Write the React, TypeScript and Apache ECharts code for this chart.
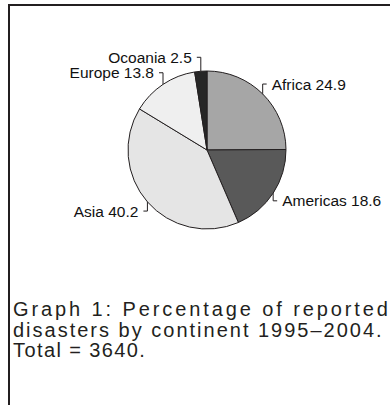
import React, { useEffect, useRef } from "react";
import * as echarts from "echarts";

const continents = ["Africa", "Americas", "Asia", "Europe", "Ocoania"];
const percentages = [24.9, 18.6, 40.2, 13.8, 2.5];
const totalDisasters = 3640;
const captionLines = [
  "Graph 1: Percentage of reported",
  "disasters by continent 1995\u20132004.",
  `Total = ${totalDisasters}.`,
];

const palette = ["#a6a6a6", "#595959", "#e5e5e5", "#efefef", "#262626"];
const INK = "#231f20";
const captionTokens = ["capone", "captwo", "capthree"];
const captionSpacing = [2.9, 2.0, 1.4];
const captionY = [310, 331, 351];

const css = captionTokens
  .map((t, i) => `#chart-root svg text[style*="${t}"]{letter-spacing:${captionSpacing[i]}px;}`)
  .join("\n");

export default function App() {
  const ref = useRef<HTMLDivElement>(null);
  useEffect(() => {
    if (!ref.current) return;
    const chart = echarts.init(ref.current, undefined, { renderer: "svg" });
    chart.setOption({
      animation: false,
      backgroundColor: "#ffffff",
      graphic: [
        {
          type: "line",
          shape: { x1: 8, y1: 5, x2: 390, y2: 5 },
          style: { stroke: INK, lineWidth: 2 },
        },
        {
          type: "line",
          shape: { x1: 9, y1: 4, x2: 9, y2: 405 },
          style: { stroke: INK, lineWidth: 2 },
        },
        ...captionLines.map((line, i) => ({
          type: "text",
          left: 13,
          top: captionY[i] - 11,
          style: {
            text: line,
            fill: INK,
            fontSize: 20,
            fontFamily: `Liberation Sans, ${captionTokens[i]}`,
          },
        })),
      ],
      series: [
        {
          type: "pie",
          center: [207, 150],
          radius: 79,
          startAngle: 90,
          clockwise: true,
          avoidLabelOverlap: false,
          data: continents.map((name, i) => ({
            name,
            value: percentages[i],
            itemStyle: { color: palette[i] },
          })),
          itemStyle: { borderColor: INK, borderWidth: 1 },
          label: {
            show: true,
            position: "outside",
            formatter: "{b} {c}",
            fontFamily: "Liberation Sans",
            fontSize: 15.5,
            color: "#111111",
          },
          labelLine: {
            show: true,
            length: 14,
            length2: 4,
            lineStyle: { color: INK, width: 1 },
          },
          labelLayout: (p: any) => {
            const pts = p.labelLinePoints;
            if (!pts) return {};
            const x1 = pts[0][0];
            const y1 = pts[0][1];
            const y = pts[1][1];
            const right = pts[2][0] > pts[1][0];
            const dir = right ? 1 : -1;
            return {
              x: x1 + dir * 9,
              y,
              align: right ? "left" : "right",
              verticalAlign: "middle",
              labelLinePoints: [
                [x1, y1],
                [x1, y],
                [x1 + dir * 4, y],
              ],
            };
          },
          emphasis: { disabled: true },
        },
      ],
    });
    return () => chart.dispose();
  }, []);
  return (
    <>
      <style>{css}</style>
      <div
        id="chart-root"
        ref={ref}
        style={{ position: "absolute", left: 0, top: 0, width: 390, height: 405 }}
      />
    </>
  );
}
